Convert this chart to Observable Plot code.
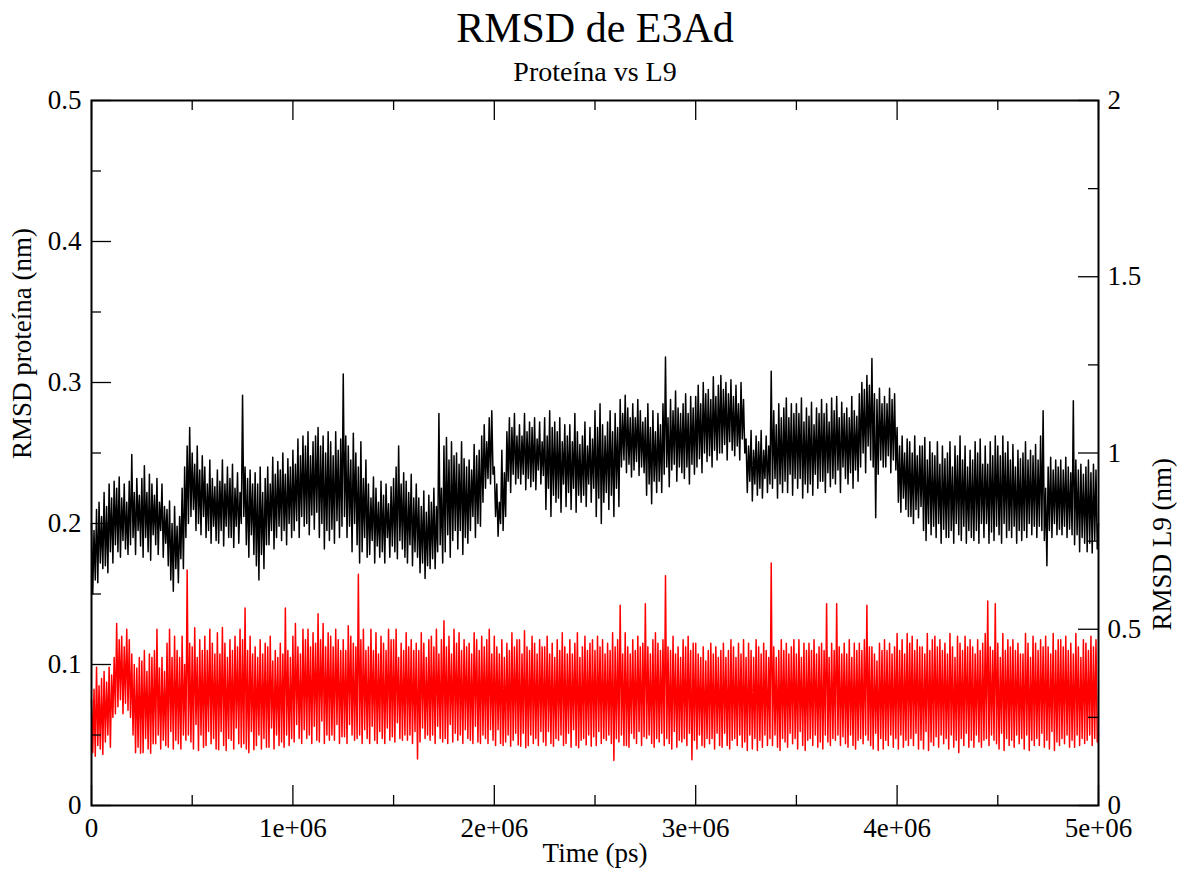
<!DOCTYPE html>
<html><head><meta charset="utf-8">
<script src="https://cdn.jsdelivr.net/npm/d3@7"></script>
<script src="https://cdn.jsdelivr.net/npm/@observablehq/plot@0.6"></script>
<style>html,body{margin:0;padding:0;background:#fff;} svg{display:block}</style>
</head><body><div id="chart"></div><script>
// ---- data (RMSD in picometres, sampled every 6250 ps from 0 to 5e6 ps) ----
const timeStart = 0, timeEnd = 5e6;
const proteinRmsdPm = [
200,150,195,160,210,158,215,172,205,168,
222,170,212,165,228,180,218,172,230,185,
225,180,233,176,218,188,228,182,215,178,
230,185,249,190,222,178,232,195,220,184,
232,176,241,190,222,180,235,174,228,192,
220,185,232,178,215,195,228,176,212,186,
210,170,216,160,200,152,212,168,198,158,
205,175,225,168,240,190,255,200,268,205,
250,210,242,195,255,200,238,192,248,205,
240,190,228,195,245,186,232,198,226,188,
238,186,230,195,245,184,228,198,240,190,
232,190,242,183,225,198,236,186,222,200,
291,205,240,185,232,176,238,192,228,178,
236,170,228,160,240,178,222,168,232,185,
240,185,228,195,247,182,235,190,244,198,
238,188,250,195,235,185,246,200,240,190,
252,195,242,202,260,190,248,205,262,198,
255,200,265,192,248,206,258,196,262,208,
268,190,255,200,262,182,250,195,265,188,
258,196,248,186,265,202,252,190,260,198,
306,205,262,190,255,198,245,180,264,200,
250,185,240,172,258,180,232,190,245,176,
228,178,218,188,233,172,225,184,215,176,
230,180,220,172,228,190,214,176,226,184,
232,180,240,175,255,188,228,182,236,176,
230,172,222,185,235,170,218,180,228,176,
218,165,212,172,223,161,208,170,220,168,
215,175,225,168,212,180,278,185,225,172,
255,180,261,192,245,176,258,188,248,195,
250,182,242,195,258,178,246,190,240,186,
245,195,238,205,256,190,248,200,252,198,
262,215,270,225,258,232,275,228,280,235,
240,205,228,191,215,200,252,195,236,205,
265,230,275,222,268,235,278,228,262,232,
270,228,262,235,278,224,265,232,272,226,
268,230,275,224,260,238,272,228,258,234,
275,210,262,225,280,205,268,220,272,215,
265,218,275,208,258,228,270,212,262,222,
270,210,258,225,278,208,265,220,256,215,
262,220,272,212,255,228,268,215,260,225,
280,205,268,218,285,200,270,215,262,222,
272,210,280,220,265,205,278,225,268,212,
288,240,278,245,291,236,282,242,275,233,
285,238,275,244,288,234,280,240,272,236,
275,220,285,228,268,214,280,230,265,222,
278,230,270,222,285,235,318,240,275,226,
288,238,280,242,294,230,282,240,278,236,
285,232,292,240,278,228,290,242,282,235,
290,240,298,246,285,236,300,250,292,244,
295,248,288,240,304,252,290,245,298,250,
305,250,295,256,300,245,292,258,302,252,
290,248,298,255,285,245,300,260,288,250,
260,222,255,230,266,216,252,228,262,220,
258,225,266,218,252,232,262,222,255,228,
308,225,280,232,270,218,285,228,275,222,
282,230,289,222,275,235,285,220,278,232,
285,225,278,232,289,218,272,228,282,222,
276,228,286,220,270,235,282,225,278,230,
288,230,278,222,285,236,272,226,289,232,
280,228,290,238,275,222,286,240,278,232,
282,228,275,236,290,225,280,238,276,230,
292,240,300,250,295,236,305,255,298,245,
317,240,292,204,288,235,296,245,285,240,
290,240,285,248,296,236,288,245,292,238,
268,215,255,208,262,218,250,210,260,205,
258,205,250,200,262,210,248,204,255,212,
255,195,261,188,245,200,258,192,250,198,
248,190,258,200,242,186,255,196,246,190,
250,190,258,195,240,186,255,200,248,192,
262,188,245,198,255,186,240,195,252,190,
245,188,258,195,250,186,260,200,242,190,
255,200,242,186,258,194,248,188,262,198,
255,192,248,186,262,200,250,190,258,195,
245,190,256,198,240,186,252,195,246,188,
250,195,258,190,245,200,252,192,248,198,
256,190,245,198,262,195,280,188,225,170,
240,195,247,190,238,200,245,192,240,196,
245,192,238,198,247,190,240,196,236,192,
287,185,245,192,238,180,242,190,235,186,
240,180,245,186,236,179,242,188,238,182,
200];
const l9RmsdPm = [
300,150,330,140,392,170,340,160,360,145,
380,180,350,200,392,165,370,250,420,260,
516,280,470,300,480,260,450,290,500,270,
470,250,430,200,400,150,390,165,420,148,
410,150,440,190,380,160,430,148,420,175,
440,175,500,200,390,160,420,185,380,170,
460,165,500,210,420,160,480,185,440,175,
420,160,480,200,400,185,668,200,460,180,
450,160,504,230,420,156,470,200,440,165,
480,170,440,210,500,175,460,190,430,160,
490,158,430,210,505,170,460,156,420,190,
470,185,440,160,480,220,450,175,500,165,
470,175,560,160,440,150,480,210,430,158,
450,170,420,200,470,160,430,190,460,165,
450,165,480,220,410,160,440,200,420,170,
460,180,430,165,560,200,440,170,420,190,
480,180,516,230,450,190,430,176,500,215,
470,190,500,200,450,176,490,225,460,185,
544,180,470,240,516,176,450,200,490,185,
480,200,450,185,500,230,470,176,440,195,
470,195,440,176,510,230,480,200,460,185,
450,190,656,200,470,176,500,215,440,190,
450,176,500,225,440,185,490,176,430,210,
480,190,460,176,440,220,500,185,470,195,
470,180,500,235,420,190,460,185,440,200,
490,185,450,200,470,176,440,210,460,132,
440,180,490,220,460,190,420,200,470,185,
480,200,450,176,500,225,430,190,470,180,
524,190,450,176,480,230,430,180,500,205,
460,185,490,200,440,176,470,215,450,190,
460,185,430,176,490,225,470,180,440,176,
480,200,450,190,470,176,500,215,430,185,
480,170,450,215,430,176,470,170,420,180,
460,200,440,168,490,185,450,205,470,172,
470,168,430,205,496,164,450,170,440,200,
480,176,460,190,430,170,470,210,450,180,
450,170,480,210,430,176,460,168,420,190,
470,185,440,200,490,170,450,176,430,205,
470,165,430,215,460,170,490,164,420,185,
450,190,480,172,440,200,460,168,470,195,
440,170,480,210,450,176,470,190,430,185,
460,200,440,176,490,128,450,190,470,180,
568,200,430,170,490,170,450,165,430,205,
470,190,440,176,480,210,450,170,460,195,
572,190,450,200,430,176,470,165,490,190,
460,180,440,205,470,170,652,190,450,176,
440,160,480,210,430,165,450,185,420,180,
470,190,450,170,480,205,440,130,460,185,
460,160,430,200,420,170,450,165,410,190,
440,175,460,190,430,160,450,205,420,170,
440,165,460,205,420,170,440,160,470,185,
450,190,420,170,460,200,430,165,470,180,
420,156,460,200,440,160,420,190,470,156,
450,185,430,165,460,200,440,170,420,190,
688,170,450,200,420,165,440,156,470,190,
440,180,460,165,430,205,450,175,470,190,
430,160,470,210,420,170,460,156,440,185,
460,190,440,170,470,200,430,165,450,180,
460,160,440,200,572,180,420,170,460,190,
440,185,572,200,450,170,430,195,460,175,
430,165,470,200,420,170,460,160,440,185,
460,190,440,175,470,200,568,185,450,170,
450,160,430,205,410,156,460,190,440,160,
470,185,440,170,460,200,430,165,450,190,
488,160,440,200,470,165,430,185,488,170,
460,190,480,170,440,205,470,160,450,185,
450,160,430,210,488,156,440,180,470,170,
480,195,450,165,470,200,440,175,460,190,
430,160,488,200,450,165,420,185,480,150,
460,190,440,170,480,205,450,165,470,185,
450,165,430,200,470,180,440,165,460,185,
488,190,580,170,450,200,440,185,572,175,
460,160,420,205,488,156,440,190,470,170,
450,185,470,165,440,200,460,175,430,190,
430,160,488,200,460,156,420,185,480,170,
460,190,440,170,470,205,450,165,480,185,
450,160,430,210,488,156,440,180,470,170,
470,190,450,175,480,200,440,165,460,185,
430,165,488,200,450,170,420,190,470,176,
460,185,440,200,480,170,450,190,470,180,
200];

// ---- axes ----
const xMajorTicks = [0, 1e6, 2e6, 3e6, 4e6, 5e6];
const xTickLabels = ["0", "1e+06", "2e+06", "3e+06", "4e+06", "5e+06"];
const xMinorTicks = [5e5, 1.5e6, 2.5e6, 3.5e6, 4.5e6];
const leftDomain = [0, 0.5];
const leftMajorTicks = [0, 0.1, 0.2, 0.3, 0.4, 0.5];
const leftTickLabels = ["0", "0.1", "0.2", "0.3", "0.4", "0.5"];
const leftMinorTicks = [0.05, 0.15, 0.25, 0.35, 0.45];
const rightDomain = [0, 2];
const rightMajorTicks = [0, 0.5, 1, 1.5, 2];
const rightTickLabels = ["0", "0.5", "1", "1.5", "2"];
const rightMinorTicks = [0.25, 0.75, 1.25, 1.75];

const title = "RMSD de E3Ad";
const subtitle = "Proteína vs L9";
const xLabel = "Time (ps)";
const leftLabel = "RMSD proteína (nm)";
const rightLabel = "RMSD L9 (nm)";

// ---- build ----
const toLeft = v => v * (leftDomain[1] / rightDomain[1]);
const protStep = (timeEnd - timeStart) / (proteinRmsdPm.length - 1);
const l9Step = (timeEnd - timeStart) / (l9RmsdPm.length - 1);
const protein = proteinRmsdPm.map((v, i) => ({t: timeStart + i * protStep, v: v / 1000}));
const l9 = l9RmsdPm.map((v, i) => ({t: timeStart + i * l9Step, v: toLeft(v / 1000)}));

const W = 1177, H = 871, mL = 91, mR = 79, mT = 100, mB = 66;
const innerW = W - mL - mR, innerH = H - mT - mB;
const major = 20, minor = 10;
const font = "'Liberation Serif', 'Times New Roman', Times, serif";

const xLabelMap = new Map(xMajorTicks.map((d, i) => [d, xTickLabels[i]]));
const leftLabelMap = new Map(leftMajorTicks.map((d, i) => [d, leftTickLabels[i]]));
const rightPos = rightMajorTicks.map(toLeft);
const rightLabelMap = new Map(rightPos.map((d, i) => [d, rightTickLabels[i]]));

const chart = Plot.plot({
  width: W, height: H,
  marginLeft: mL, marginRight: mR, marginTop: mT, marginBottom: mB,
  style: {fontFamily: font, fontSize: "27px", background: "#fff", color: "#000", overflow: "visible"},
  x: {domain: [timeStart, timeEnd]},
  y: {domain: leftDomain},
  marks: [
    Plot.line(protein, {x: "t", y: "v", stroke: "#000", strokeWidth: 1.5}),
    Plot.line(l9, {x: "t", y: "v", stroke: "#ff0000", strokeWidth: 1.5}),
    // ticks (inward, Grace style)
    Plot.ruleX(xMajorTicks, {x: d => d, insetTop: innerH - major, stroke: "#000", strokeWidth: 1.3}),
    Plot.ruleX(xMinorTicks, {x: d => d, insetTop: innerH - minor, stroke: "#000", strokeWidth: 1.3}),
    Plot.ruleX(xMajorTicks, {x: d => d, insetBottom: innerH - major, stroke: "#000", strokeWidth: 1.3}),
    Plot.ruleX(xMinorTicks, {x: d => d, insetBottom: innerH - minor, stroke: "#000", strokeWidth: 1.3}),
    Plot.ruleY(leftMajorTicks, {y: d => d, insetRight: innerW - major, stroke: "#000", strokeWidth: 1.3}),
    Plot.ruleY(leftMinorTicks, {y: d => d, insetRight: innerW - minor, stroke: "#000", strokeWidth: 1.3}),
    Plot.ruleY(rightPos, {y: d => d, insetLeft: innerW - major, stroke: "#000", strokeWidth: 1.3}),
    Plot.ruleY(rightMinorTicks.map(toLeft), {y: d => d, insetLeft: innerW - minor, stroke: "#000", strokeWidth: 1.3}),
    Plot.frame({stroke: "#000", strokeWidth: 2}),
    // axis labels
    Plot.axisX({ticks: xMajorTicks, tickSize: 0, tickPadding: 12, tickFormat: d => xLabelMap.get(d), label: null, fontSize: 27}),
    Plot.axisY({ticks: leftMajorTicks, anchor: "left", tickSize: 0, tickPadding: 10, tickFormat: d => leftLabelMap.get(d), label: null, fontSize: 27}),
    Plot.axisY({ticks: rightPos, anchor: "right", tickSize: 0, tickPadding: 9, tickFormat: d => rightLabelMap.get(d), label: null, fontSize: 27}),
    Plot.text([xLabel], {frameAnchor: "bottom", dy: 48, fontSize: 27, lineAnchor: "middle"}),
    Plot.text([leftLabel], {frameAnchor: "left", dx: -69, dy: 6, rotate: -90, fontSize: 27, lineAnchor: "middle"}),
    Plot.text([rightLabel], {frameAnchor: "right", dx: 64, dy: 5, rotate: -90, fontSize: 27, lineAnchor: "middle"}),
    Plot.text([title], {frameAnchor: "top", dy: -72, fontSize: 42, lineAnchor: "middle"}),
    Plot.text([subtitle], {frameAnchor: "top", dy: -28, fontSize: 28, lineAnchor: "middle"})
  ]
});
document.getElementById("chart").appendChild(chart);
</script></body></html>
